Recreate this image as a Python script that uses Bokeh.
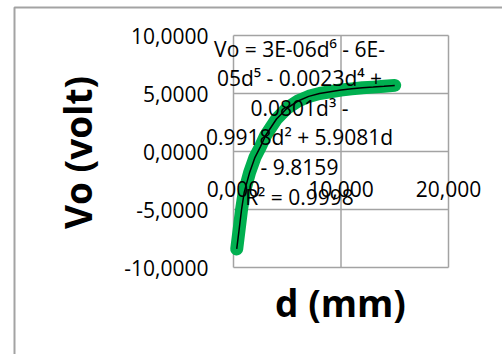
import math
from bokeh.plotting import figure
from bokeh.models import Range1d, FixedTicker, Label
from bokeh.embed import file_html
from bokeh.resources import INLINE

# ---- data ----
d_mm = [0.3, 0.5, 0.75, 1.0, 1.5, 2.0, 2.5, 3.0, 4.0, 5.0, 6.0, 7.0, 8.0, 9.0,
        10.0, 11.0, 12.0, 13.0, 14.0, 15.0]
vo_volt = [-8.4, -6.9, -5.0, -3.5, -1.8, -0.5, 0.4, 1.4, 2.8, 3.75, 4.35, 4.75,
           5.0, 5.15, 5.3, 5.4, 5.5, 5.55, 5.62, 5.7]

x_ticks = [0, 10, 20]
x_tick_labels = ["0,000", "10,000", "20,000"]
y_ticks = [-10, -5, 0, 5, 10]
y_tick_labels = ["-10,0000", "-5,0000", "0,0000", "5,0000", "10,0000"]

eq_lines = ["Vo = 3E-06d\u2076 - 6E-", "05d\u2075 - 0.0023d\u2074 +", "0.0801d\u00b3 -",
            "0.9918d\u00b2 + 5.9081d", "- 9.8159", "R\u00b2 = 0.9998"]

x_title = "d (mm)"
y_title = "Vo (volt)"

# ---- geometry (pixels in the 502x354 page) ----
W, H = 502, 354
FL, FT, FR, FB = 233, 35, 448, 267          # plot area inside the chart
XMIN, XMAX, YMIN, YMAX = 0, 20, -10, 10

def dx(px):
    return XMIN + (px - FL) / (FR - FL) * (XMAX - XMIN)

def dy(py):
    return YMAX - (py - FT) / (FB - FT) * (YMAX - YMIN)

GRID = "#a3a3a3"
FONT = "Open Sans"

# the frame covers the whole page; the plot area is a data window inside it
p = figure(frame_width=W, frame_height=H, min_border=0,
           x_range=Range1d(dx(0), dx(W)), y_range=Range1d(dy(H), dy(0)),
           output_backend="svg", toolbar_location=None)
p.background_fill_color = "white"
p.border_fill_color = "white"
p.outline_line_color = None
p.grid.visible = False

# grid lines / plot-area border from the tick lists
p.segment(x0=x_ticks, x1=x_ticks, y0=[YMIN] * len(x_ticks), y1=[YMAX] * len(x_ticks),
          line_color=GRID, line_width=1.5)
p.segment(x0=[XMIN] * len(y_ticks), x1=[XMAX] * len(y_ticks), y0=y_ticks, y1=y_ticks,
          line_color=GRID, line_width=1.5)

# y axis at x = 0
ya = p.yaxis[0]
ya.fixed_location = 0
ya.bounds = (YMIN, YMAX)
ya.ticker = FixedTicker(ticks=y_ticks)
ya.major_label_overrides = {t: s for t, s in zip(y_ticks, y_tick_labels)}
ya.axis_line_color = None
ya.major_tick_line_color = None
ya.minor_tick_line_color = None
ya.major_tick_out = 0
ya.major_tick_in = 0
ya.major_label_standoff = 25
ya.major_label_text_font = FONT
ya.major_label_text_font_size = "21px"
ya.major_label_text_color = "black"

# x axis at y = 0
xa = p.xaxis[0]
xa.fixed_location = 0
xa.bounds = (XMIN, XMAX)
xa.ticker = FixedTicker(ticks=x_ticks)
xa.major_label_overrides = {t: s for t, s in zip(x_ticks, x_tick_labels)}
xa.axis_line_color = None
xa.major_tick_line_color = None
xa.minor_tick_line_color = None
xa.major_tick_out = 0
xa.major_tick_in = 0
xa.major_label_standoff = 29
xa.major_label_text_font = FONT
xa.major_label_text_font_size = "21px"
xa.major_label_text_color = "black"

# series and trendline
p.line(d_mm, vo_volt, line_color="#00b050", line_width=13, line_cap="round",
       line_join="round")
p.line(d_mm, vo_volt, line_color="black", line_width=1.5)

def add_text(px, py, s, size="21px", bold=False, angle=0.0):
    p.add_layout(Label(x=dx(px), y=dy(py), text=s, text_align="center",
                       text_baseline="middle", text_font=FONT,
                       text_font_size=size,
                       text_font_style="bold" if bold else "normal",
                       text_color="black", angle=angle))

# trendline equation
for i, s in enumerate(eq_lines):
    add_text(299, 48 + i * 29.6, s)

# axis titles
add_text(340, 302, x_title, size="37px", bold=True)
add_text(77, 152, y_title, size="37px", bold=True, angle=math.pi / 2)

# outer chart border (cropped by the page at right and bottom)
p.line(x=[dx(14), dx(14), dx(W + 20)], y=[dy(H + 20), dy(7), dy(7)],
       line_color=GRID, line_width=2)

open("out.html", "w").write(file_html(p, INLINE))
